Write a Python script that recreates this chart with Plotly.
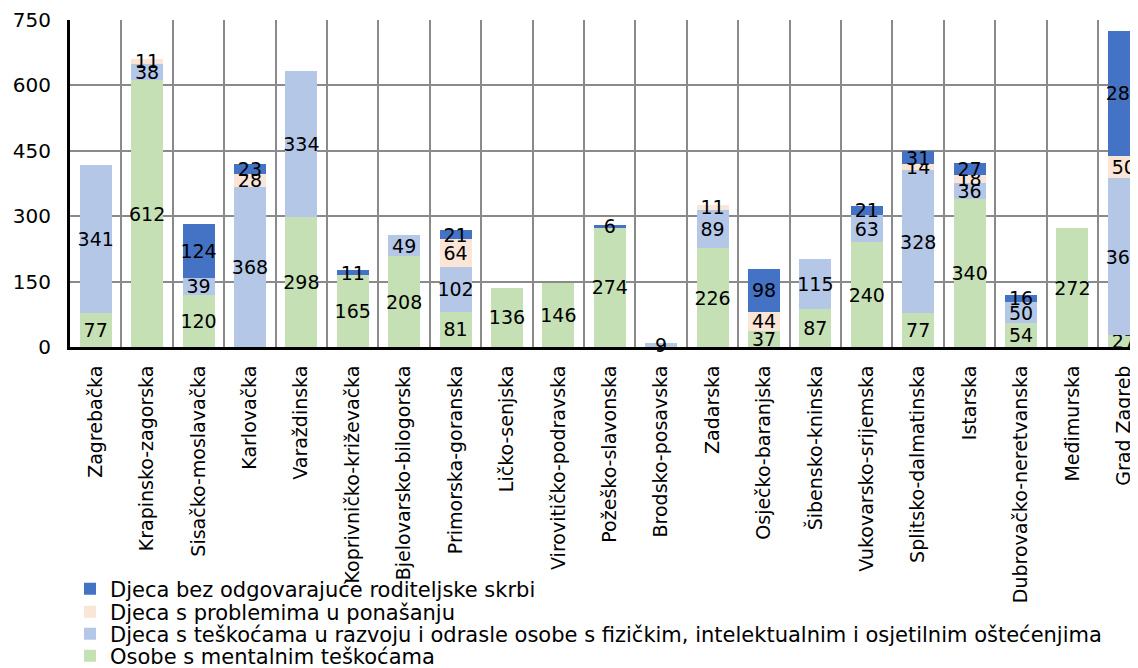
import plotly.graph_objects as go

categories = ["Zagrebačka", "Krapinsko-zagorska", "Sisačko-moslavačka", "Karlovačka",
              "Varaždinska", "Koprivničko-križevačka", "Bjelovarsko-bilogorska",
              "Primorska-goranska", "Ličko-senjska", "Virovitičko-podravska",
              "Požeško-slavonska", "Brodsko-posavska", "Zadarska", "Osječko-baranjska",
              "Šibensko-kninska", "Vukovarsko-srijemska", "Splitsko-dalmatinska",
              "Istarska", "Dubrovačko-neretvanska", "Međimurska", "Grad Zagreb"]

mentalne = [77, 612, 120, 0, 298, 165, 208, 81, 136, 146, 274, 0, 226, 37, 87, 240, 77, 340, 54, 272, 27]
razvoj = [341, 38, 39, 368, 334, 0, 49, 102, 0, 0, 0, 9, 89, 0, 115, 63, 328, 36, 50, 0, 361]
ponasanje = [0, 11, 0, 28, 0, 0, 0, 64, 0, 0, 0, 0, 11, 44, 0, 0, 14, 18, 0, 0, 50]
skrb = [0, 0, 124, 23, 0, 11, 0, 21, 0, 0, 6, 0, 0, 98, 0, 21, 31, 27, 16, 0, 287]

series = [
    ("Osobe s mentalnim teškoćama", mentalne, "#C5E0B4", "legend4"),
    ("Djeca s teškoćama u razvoju i odrasle osobe s fizičkim, intelektualnim i osjetilnim oštećenjima", razvoj, "#B4C7E7", "legend3"),
    ("Djeca s problemima u ponašanju", ponasanje, "#FBE5D6", "legend2"),
    ("Djeca bez odgovarajuće roditeljske skrbi", skrb, "#4472C4", "legend"),
]

FONT = "DejaVu Sans, Liberation Sans, Arial, sans-serif"

fig = go.Figure()
for name, vals, color, leg in series:
    fig.add_trace(go.Bar(
        x=categories,
        y=[v if v else None for v in vals],
        name=name,
        legend=leg,
        marker=dict(color=color, line=dict(width=0)),
        text=[str(v) if v else "" for v in vals],
        textposition="inside",
        insidetextanchor="middle",
        textangle=0,
        textfont=dict(color="black", size=19, family=FONT),
        cliponaxis=False,
    ))

# the page body adds an 8 px margin; plot area spans page y 20..347 (327 px)
def leg(py):
    return dict(
        x=0.0, xanchor="left",
        y=(347 - py) / 327, yanchor="middle",
        font=dict(size=21, family=FONT, color="black"),
        bgcolor="rgba(0,0,0,0)",
        itemwidth=30,
    )

fig.update_layout(
    barmode="stack",
    bargap=0.377,
    width=1130,
    height=660,
    margin=dict(l=62, r=0, t=12, b=321, autoexpand=False),
    plot_bgcolor="white",
    paper_bgcolor="white",
    font=dict(family=FONT, size=19, color="black"),
    uniformtext=dict(minsize=19, mode="show"),
    showlegend=True,
    legend=leg(589),
    legend2=leg(612),
    legend3=leg(634),
    legend4=leg(656),
    xaxis=dict(
        range=[-0.5, 20.276],
        tickson="boundaries",
        showgrid=True,
        gridcolor="#8a8a8a",
        gridwidth=1.7,
        showline=True,
        linecolor="black",
        linewidth=3,
        tickangle=-90,
        ticks="",
        tickfont=dict(size=19, family=FONT),
        ticklabelstandoff=8,
        automargin=False,
    ),
    yaxis=dict(
        range=[0, 750],
        tickvals=[0, 150, 300, 450, 600, 750],
        showgrid=True,
        gridcolor="#8a8a8a",
        gridwidth=1.7,
        showline=True,
        linecolor="black",
        linewidth=3,
        ticks="",
        zeroline=False,
        tickfont=dict(size=20, family=FONT),
        ticklabelstandoff=12,
        automargin=False,
    ),
)

fig.write_html("out.html")
